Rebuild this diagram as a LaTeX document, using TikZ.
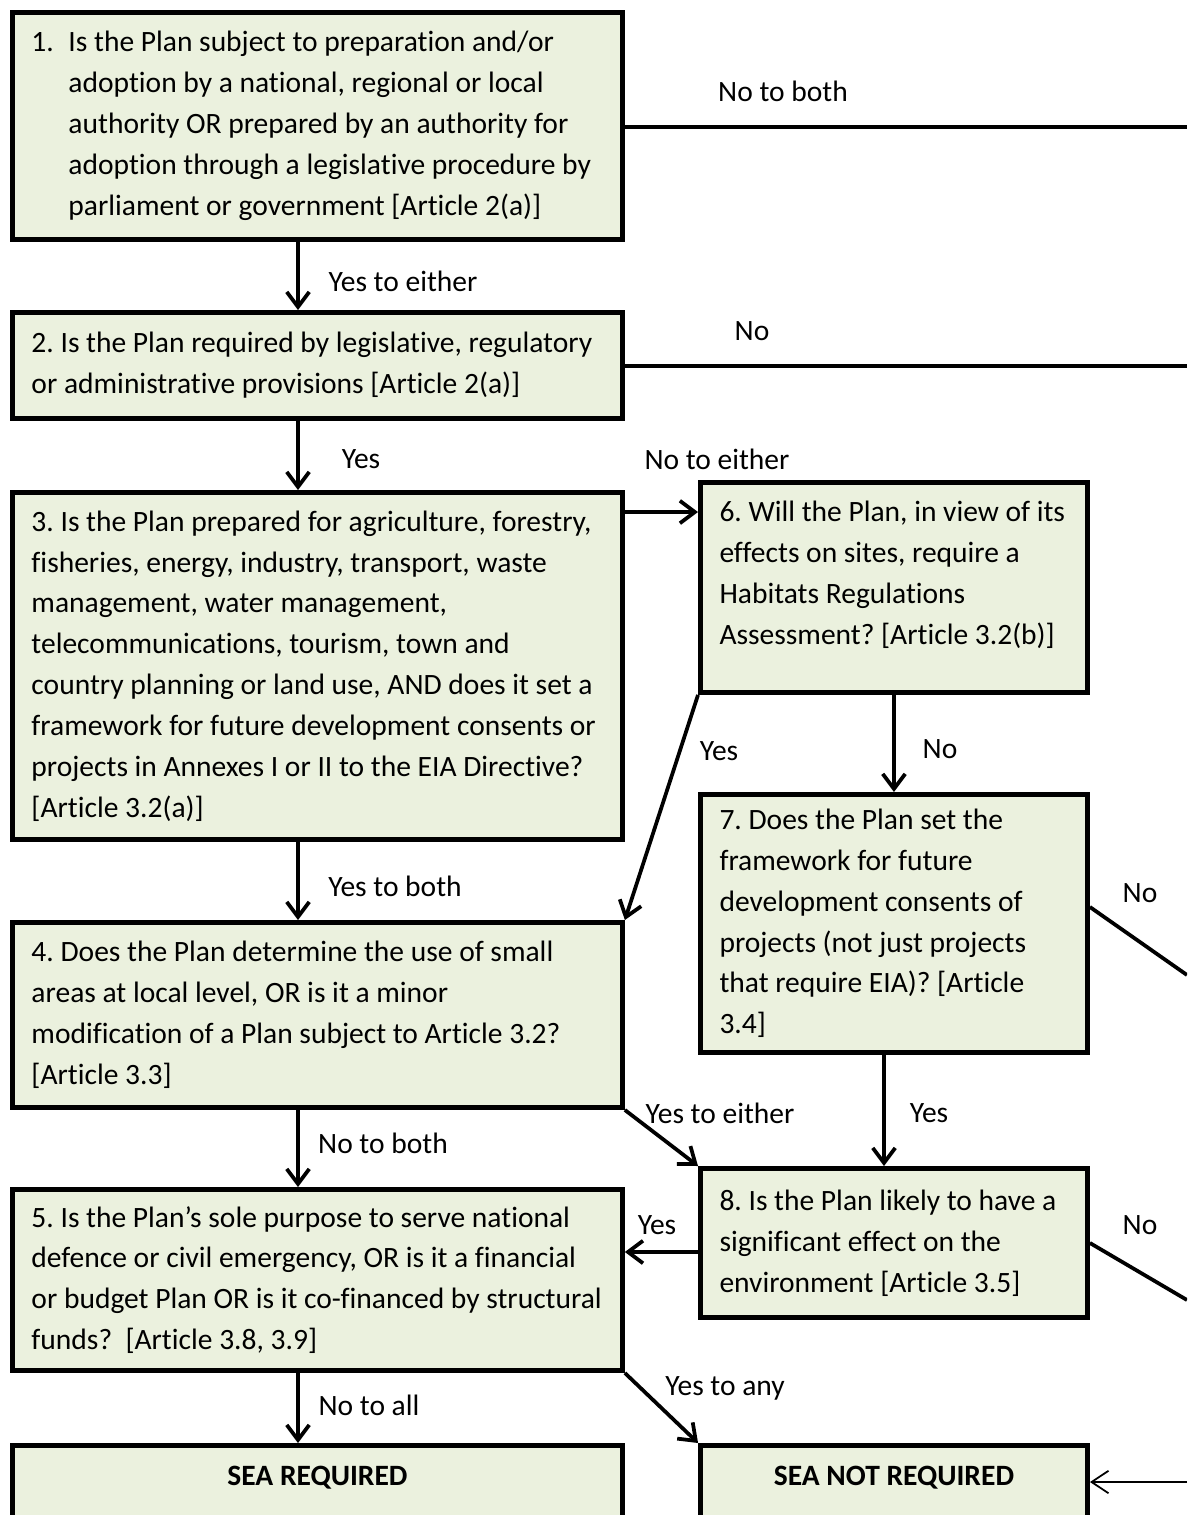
\documentclass[tikz,border=0pt]{standalone}
\usepackage{fontspec}
\setmainfont{Carlito}[Ligatures=NoCommon]
\usetikzlibrary{arrows.meta}
\definecolor{boxGreen}{RGB}{235, 241, 222}
\newcommand{\boxfont}{\fontsize{16.8}{23.25}\selectfont\frenchspacing\hyphenpenalty=10000\relax}

\tikzset{
  qbox/.style={draw, fill=boxGreen, line width=0.1cm, anchor=north west,
    align=flush left, inner xsep=0.38cm, inner ysep=0pt, font=\boxfont},
  wide/.style={qbox, text width=11.44cm},
  narrow/.style={qbox, text width=6.98cm},
  endbox/.style={draw, fill=boxGreen, line width=0.1cm, anchor=north,
    inner ysep=0.42cm, text depth=1.5cm, font=\boxfont\bfseries},
  link/.style={line width=0.075cm},
  arrow/.style={link, -{Straight Barb[length=0.3cm, width=0.45cm]}},
  thinarrow/.style={line width=0.035cm, -{Straight Barb[length=0.34cm, width=0.45cm]}},
  lbl/.style={inner sep=0pt, font=\boxfont}
}

\begin{document}
\begin{tikzpicture}[x=0.02cm, y=-0.02cm]
  \useasboundingbox (0,0) rectangle (1187,1515);
  \clip (0,0) rectangle (1187,1515);

  % question boxes, left column
  \node[wide, minimum height=4.54cm] (q1) at (10,10) {\makebox[0.74cm][l]{1.}Is the Plan subject to preparation and/or\\
    \hspace*{0.74cm}adoption by a national, regional or local\\
    \hspace*{0.74cm}authority OR prepared by an authority for\\
    \hspace*{0.74cm}adoption through a legislative procedure by\\
    \hspace*{0.74cm}parliament or government [Article 2(a)]};
  \node[wide, minimum height=2.12cm] (q2) at (10,310) {2. Is the Plan required by legislative, regulatory\\
    or administrative provisions [Article 2(a)]};
  \node[wide, minimum height=6.94cm] (q3) at (10,490) {3. Is the Plan prepared for agriculture, forestry,\\
    fisheries, energy, industry, transport, waste\\
    management, water management,\\
    telecommunications, tourism, town and\\
    country planning or land use, AND does it set a\\
    framework for future development consents or\\
    projects in Annexes I or II to the EIA Directive?\\
    {}[Article 3.2(a)]};
  \node[wide, minimum height=3.70cm] (q4) at (10,920) {4. Does the Plan determine the use of small\\
    areas at local level, OR is it a minor\\
    modification of a Plan subject to Article 3.2?\\
    {}[Article 3.3]};
  \node[wide, minimum height=3.62cm] (q5) at (10,1187) {5. Is the Plan’s sole purpose to serve national\\
    defence or civil emergency, OR is it a financial\\
    or budget Plan OR is it co-financed by structural\\
    funds?\ \ [Article 3.8, 3.9]};

  % question boxes, right column
  \node[narrow, minimum height=4.2cm] (q6) at (698,480) {6. Will the Plan, in view of its\\
    effects on sites, require a\\
    Habitats Regulations\\
    Assessment? [Article 3.2(b)]\rule[-0.58cm]{0pt}{0pt}};
  \node[narrow, minimum height=5.16cm] (q7) at (698,792) {7. Does the Plan set the\\
    framework for future\\
    development consents of\\
    projects (not just projects\\
    that require EIA)? [Article\\
    3.4]};
  \node[narrow, minimum height=2.98cm] (q8) at (698,1166) {8. Is the Plan likely to have a\\
    significant effect on the\\
    environment [Article 3.5]};

  % outcomes
  \node[endbox, minimum width=12.2cm] (sr) at (317.5,1443) {SEA REQUIRED};
  \node[endbox, minimum width=7.74cm] (snr) at (894,1443) {SEA NOT REQUIRED};

  % helper points
  \coordinate (lx) at (298,0);
  \coordinate (rx) at (884,0);
  \coordinate (h36) at (0,512);
  \coordinate (h85) at (0,1252);
  \coordinate (h7) at (0,907);
  \coordinate (e1) at (1187,127);
  \coordinate (e2) at (1187,366);
  \coordinate (e7) at (1187,975);
  \coordinate (e8) at (1187,1300);
  \coordinate (e9) at (1187,1482);

  % connectors
  \draw[link] (q1.east |- e1) -- (e1);
  \draw[link] (q2.east |- e2) -- (e2);
  \draw[arrow] (q1.south -| lx) -- (q2.north -| lx);
  \draw[arrow] (q2.south -| lx) -- (q3.north -| lx);
  \draw[arrow] (q3.east |- h36) -- (q6.west |- h36);
  \draw[arrow] (q6.south west) -- (q4.north east);
  \draw[arrow] (q6.south) -- (q7.north);
  \draw[arrow] (q3.south -| lx) -- (q4.north -| lx);
  \draw[link] (q7.east |- h7) -- (e7);
  \draw[arrow] (q7.south -| rx) -- (q8.north -| rx);
  \draw[arrow] (q4.south east) -- (q8.north west);
  \draw[arrow] (q4.south -| lx) -- (q5.north -| lx);
  \draw[arrow] (q8.west |- h85) -- (q5.east |- h85);
  \draw[link] (q8.east) -- (e8);
  \draw[arrow] (q5.south east) -- (snr.north west);
  \draw[arrow] (q5.south -| lx) -- (sr.north -| lx);
  \draw[thinarrow] (e9) -- (snr.east |- e9);

  % connector labels
  \node[lbl] (l1) at (783,91) {No to both};
  \node[lbl] (l2) at (752,331) {No};
  \node[lbl] (l12) at (403,281) {Yes to either};
  \node[lbl] (l23) at (361,459) {Yes};
  \node[lbl] (l36) at (717,459) {No to either};
  \node[lbl] (l64) at (719,751) {Yes};
  \node[lbl] (l67) at (940,749) {No};
  \node[lbl] (l34) at (395,886) {Yes to both};
  \node[lbl] (l7) at (1140,893) {No};
  \node[lbl] (l78) at (929,1113) {Yes};
  \node[lbl] (l48) at (720,1113) {Yes to either};
  \node[lbl] (l45) at (383,1143) {No to both};
  \node[lbl] (l85) at (657,1225) {Yes};
  \node[lbl] (l8) at (1140,1225) {No};
  \node[lbl] (l5n) at (725,1388) {Yes to any};
  \node[lbl] (l5r) at (369,1405) {No to all};
\end{tikzpicture}
\end{document}
